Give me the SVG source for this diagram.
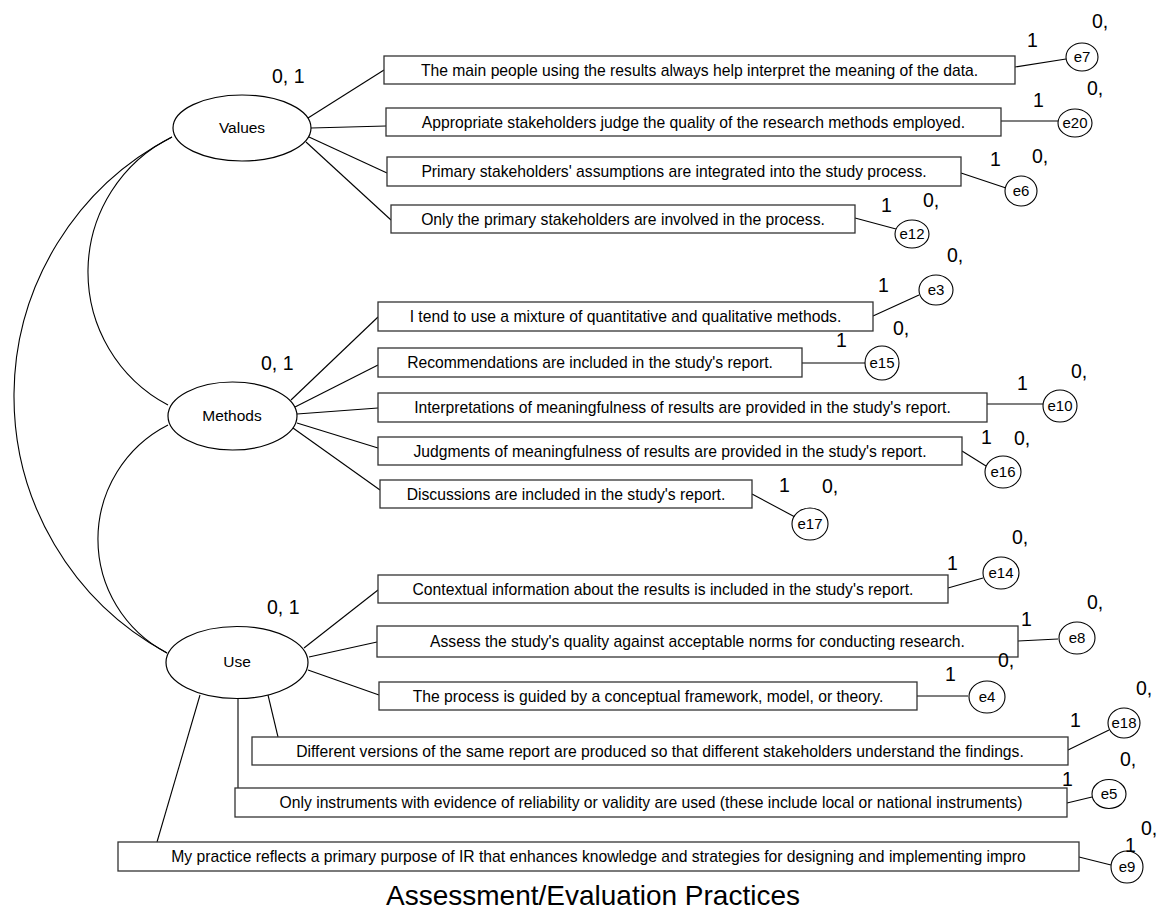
<svg xmlns="http://www.w3.org/2000/svg" width="1157" height="918" viewBox="0 0 1157 918">
<style>
text{font-family:"Liberation Sans",Arial,Helvetica,sans-serif;fill:#000}
.lat{fill:#fff;stroke:#000;stroke-width:1.2}
.err{fill:#fff;stroke:#000;stroke-width:1.1}
.box{fill:#fff;stroke:#333;stroke-width:1.3}
.ln{fill:none;stroke:#000;stroke-width:1.1}
.bt{font-size:15.7px;text-anchor:middle}
.lt{font-size:15.5px;text-anchor:middle}
.et{font-size:15px;text-anchor:middle}
.pv{font-size:19.5px}
.title{font-size:28px;text-anchor:middle}
</style>
<g id="connectors">
<path class="ln" d="M172,137 A150.5,150.5 0 0 0 168,405"/>
<path class="ln" d="M168,425 A128.2,128.2 0 0 0 167,653"/>
<path class="ln" d="M172,137 A291.8,291.8 0 0 0 167,653"/>
<line class="ln" x1="308" y1="118" x2="384" y2="70"/>
<line class="ln" x1="311" y1="128" x2="386" y2="126"/>
<line class="ln" x1="309" y1="137" x2="387" y2="173"/>
<line class="ln" x1="306" y1="142" x2="391" y2="220"/>
<line class="ln" x1="291" y1="400" x2="378" y2="317"/>
<line class="ln" x1="295" y1="407" x2="378" y2="365"/>
<line class="ln" x1="297" y1="414" x2="378" y2="408"/>
<line class="ln" x1="297" y1="423" x2="378" y2="448"/>
<line class="ln" x1="293" y1="428" x2="380" y2="490"/>
<line class="ln" x1="304" y1="648" x2="378" y2="590"/>
<line class="ln" x1="309" y1="657" x2="377" y2="642"/>
<line class="ln" x1="308" y1="670" x2="379" y2="695"/>
<line class="ln" x1="268" y1="695" x2="278" y2="737"/>
<line class="ln" x1="238" y1="699" x2="238" y2="788"/>
<line class="ln" x1="200" y1="695" x2="157" y2="842"/>
<line class="ln" x1="1015" y1="67" x2="1066" y2="59"/>
<line class="ln" x1="1001" y1="121" x2="1058" y2="121"/>
<line class="ln" x1="961" y1="173" x2="1006" y2="188"/>
<line class="ln" x1="855" y1="218" x2="896" y2="229"/>
<line class="ln" x1="873" y1="316" x2="919" y2="295"/>
<line class="ln" x1="802" y1="363" x2="865" y2="363"/>
<line class="ln" x1="987" y1="404" x2="1043" y2="404"/>
<line class="ln" x1="962" y1="451" x2="986" y2="466"/>
<line class="ln" x1="752" y1="494" x2="795" y2="517"/>
<line class="ln" x1="948" y1="588" x2="983" y2="578"/>
<line class="ln" x1="1018" y1="641" x2="1058" y2="639"/>
<line class="ln" x1="917" y1="696" x2="968" y2="696"/>
<line class="ln" x1="1068" y1="750" x2="1109" y2="730"/>
<line class="ln" x1="1067" y1="803" x2="1092" y2="797"/>
<line class="ln" x1="1079" y1="857" x2="1111" y2="865"/>
</g>
<g id="Values"><ellipse class="lat" cx="242" cy="128" rx="69" ry="33"/><text class="lt" x="242" y="133">Values</text><text class="pv" x="272" y="83">0, 1</text></g>
<g id="Methods"><ellipse class="lat" cx="232.5" cy="416" rx="64.5" ry="34"/><text class="lt" x="232" y="421">Methods</text><text class="pv" x="261" y="370">0, 1</text></g>
<g id="Use"><ellipse class="lat" cx="237" cy="662.5" rx="71" ry="36"/><text class="lt" x="237" y="667">Use</text><text class="pv" x="267" y="614">0, 1</text></g>
<g id="item1"><rect class="box" x="384" y="56" width="631" height="28"/><text class="bt" x="699.5" y="75.5">The main people using the results always help interpret the meaning of the data.</text></g>
<g id="item2"><rect class="box" x="386" y="108" width="615" height="28"/><text class="bt" x="693.5" y="127.5">Appropriate stakeholders judge the quality of the research methods employed.</text></g>
<g id="item3"><rect class="box" x="387" y="157" width="574" height="29"/><text class="bt" x="674" y="177">Primary stakeholders' assumptions are integrated into the study process.</text></g>
<g id="item4"><rect class="box" x="391" y="205" width="464" height="28"/><text class="bt" x="623" y="224.5">Only the primary stakeholders are involved in the process.</text></g>
<g id="item5"><rect class="box" x="378" y="302" width="495" height="29"/><text class="bt" x="625.5" y="322">I tend to use a mixture of quantitative and qualitative methods.</text></g>
<g id="item6"><rect class="box" x="378" y="348" width="424" height="29"/><text class="bt" x="590" y="368">Recommendations are included in the study's report.</text></g>
<g id="item7"><rect class="box" x="378" y="393" width="609" height="29"/><text class="bt" x="682.5" y="413">Interpretations of meaningfulness of results are provided in the study's report.</text></g>
<g id="item8"><rect class="box" x="378" y="437" width="584" height="28"/><text class="bt" x="670" y="456.5">Judgments of meaningfulness of results are provided in the study's report.</text></g>
<g id="item9"><rect class="box" x="380" y="480" width="372" height="28"/><text class="bt" x="566" y="499.5">Discussions are included in the study's report.</text></g>
<g id="item10"><rect class="box" x="378" y="575" width="570" height="28"/><text class="bt" x="663" y="594.5">Contextual information about the results is included in the study's report.</text></g>
<g id="item11"><rect class="box" x="377" y="626" width="641" height="31"/><text class="bt" x="697.5" y="647">Assess the study's quality against acceptable norms for conducting research.</text></g>
<g id="item12"><rect class="box" x="379" y="682" width="538" height="28"/><text class="bt" x="648" y="701.5">The process is guided by a conceptual framework, model, or theory.</text></g>
<g id="item13"><rect class="box" x="252" y="737" width="816" height="28"/><text class="bt" x="660" y="756.5">Different versions of the same report are produced so that different stakeholders understand the findings.</text></g>
<g id="item14"><rect class="box" x="235" y="788" width="832" height="29"/><text class="bt" x="651" y="808">Only instruments with evidence of reliability or validity are used (these include local or national instruments)</text></g>
<g id="item15"><rect class="box" x="118" y="842" width="961" height="29"/><text class="bt" x="598.5" y="862">My practice reflects a primary purpose of IR that enhances knowledge and strategies for designing and implementing impro</text></g>
<g id="e7"><ellipse class="err" cx="1082" cy="57" rx="16" ry="14"/><text class="et" x="1082" y="62">e7</text><text class="pv" x="1027" y="47">1</text><text class="pv" x="1092" y="28">0,</text></g>
<g id="e20"><ellipse class="err" cx="1075" cy="123" rx="17" ry="14"/><text class="et" x="1075" y="128">e20</text><text class="pv" x="1033" y="107">1</text><text class="pv" x="1087" y="95">0,</text></g>
<g id="e6"><ellipse class="err" cx="1021" cy="191" rx="16" ry="15"/><text class="et" x="1021" y="196">e6</text><text class="pv" x="990" y="166">1</text><text class="pv" x="1032" y="163">0,</text></g>
<g id="e12"><ellipse class="err" cx="912" cy="234" rx="17" ry="14"/><text class="et" x="912" y="239">e12</text><text class="pv" x="881" y="212">1</text><text class="pv" x="923" y="207">0,</text></g>
<g id="e3"><ellipse class="err" cx="936" cy="290" rx="17" ry="15"/><text class="et" x="936" y="295">e3</text><text class="pv" x="878" y="292">1</text><text class="pv" x="947" y="262">0,</text></g>
<g id="e15"><ellipse class="err" cx="882" cy="363" rx="17" ry="17"/><text class="et" x="882" y="368">e15</text><text class="pv" x="836" y="347">1</text><text class="pv" x="893" y="335">0,</text></g>
<g id="e10"><ellipse class="err" cx="1060" cy="406" rx="17" ry="16"/><text class="et" x="1060" y="411">e10</text><text class="pv" x="1017" y="390">1</text><text class="pv" x="1071" y="378">0,</text></g>
<g id="e16"><ellipse class="err" cx="1003" cy="472" rx="18" ry="16"/><text class="et" x="1003" y="477">e16</text><text class="pv" x="981" y="444">1</text><text class="pv" x="1014" y="445">0,</text></g>
<g id="e17"><ellipse class="err" cx="810" cy="524" rx="18" ry="16"/><text class="et" x="810" y="529">e17</text><text class="pv" x="779" y="492">1</text><text class="pv" x="822" y="493">0,</text></g>
<g id="e14"><ellipse class="err" cx="1001" cy="573" rx="18" ry="16"/><text class="et" x="1001" y="578">e14</text><text class="pv" x="947" y="570">1</text><text class="pv" x="1012" y="544">0,</text></g>
<g id="e8"><ellipse class="err" cx="1077" cy="638" rx="18" ry="16"/><text class="et" x="1077" y="643">e8</text><text class="pv" x="1021" y="626">1</text><text class="pv" x="1087" y="609">0,</text></g>
<g id="e4"><ellipse class="err" cx="987" cy="697" rx="18" ry="16"/><text class="et" x="987" y="702">e4</text><text class="pv" x="945" y="681">1</text><text class="pv" x="998" y="667">0,</text></g>
<g id="e18"><ellipse class="err" cx="1124" cy="723" rx="16" ry="15"/><text class="et" x="1124" y="728">e18</text><text class="pv" x="1070" y="727">1</text><text class="pv" x="1136" y="695">0,</text></g>
<g id="e5"><ellipse class="err" cx="1109" cy="794" rx="17" ry="14.5"/><text class="et" x="1109" y="799">e5</text><text class="pv" x="1062" y="786">1</text><text class="pv" x="1120" y="766">0,</text></g>
<g id="e9"><ellipse class="err" cx="1127" cy="867" rx="16" ry="16"/><text class="et" x="1127" y="872">e9</text><text class="pv" x="1125" y="852">1</text><text class="pv" x="1141" y="835">0,</text></g>
<text class="title" x="593" y="905">Assessment/Evaluation Practices</text>
</svg>
